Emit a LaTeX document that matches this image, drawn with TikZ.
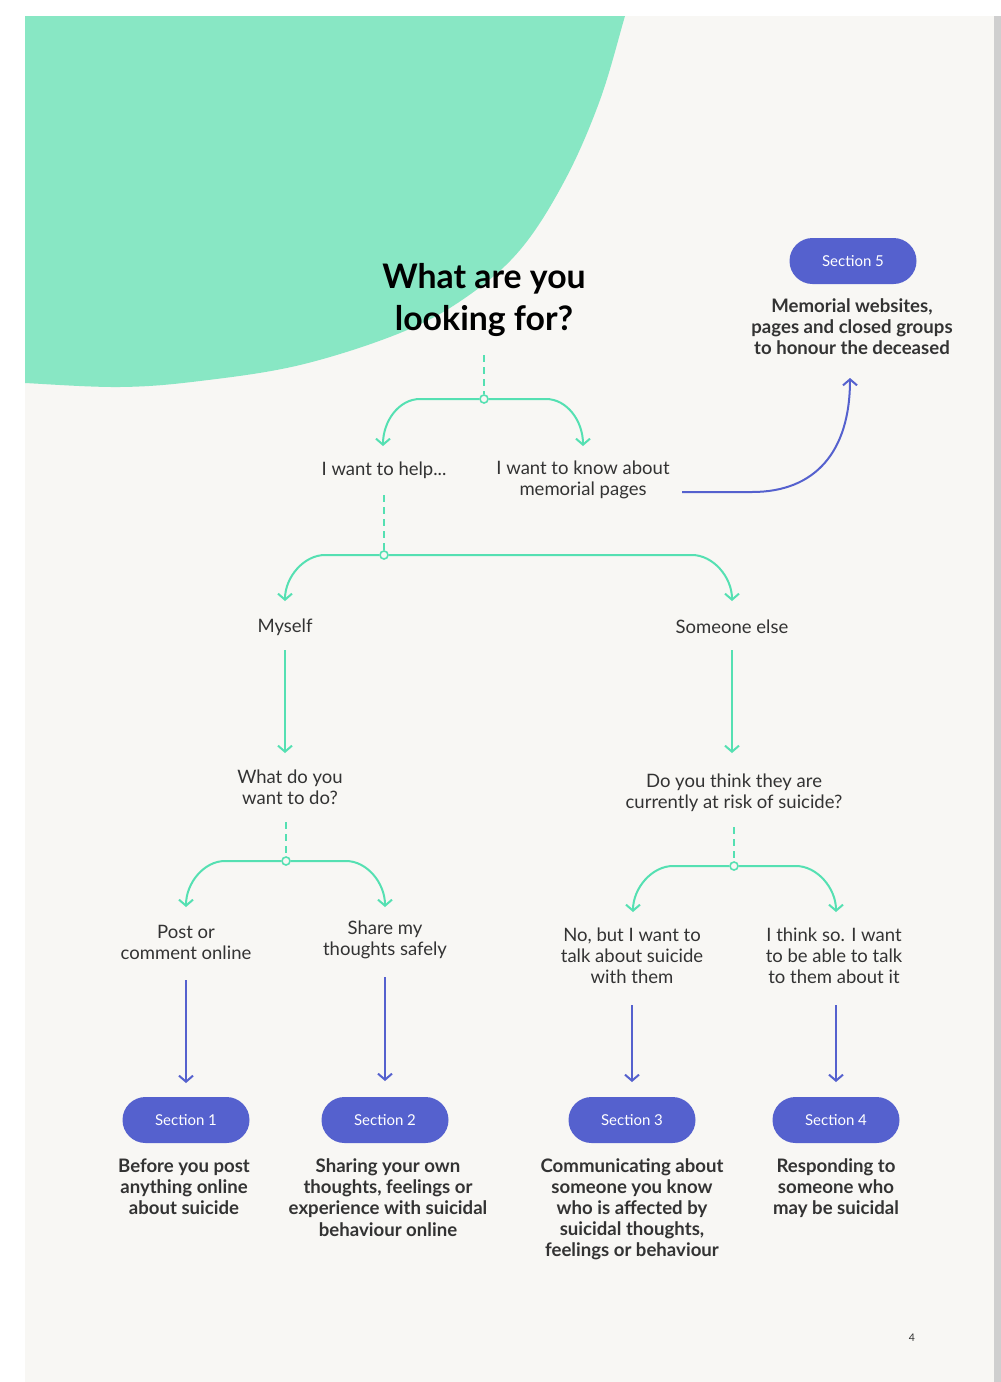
\documentclass[tikz,border=0pt]{standalone}
\usepackage{fontspec}
\setmainfont{Lato}
\usetikzlibrary{arrows.meta,shapes.misc}
\definecolor{pagebg}{HTML}{F8F7F4}
\definecolor{blob}{HTML}{88E7C4}
\definecolor{mint}{HTML}{55E0B2}
\definecolor{pillblue}{HTML}{5561CE}
\definecolor{ink}{HTML}{333333}
\definecolor{edge}{HTML}{CFCFCF}
\begin{document}
\begin{tikzpicture}[x=1pt,y=-1pt,
  txt/.style={font=\fontsize{18.5}{21}\selectfont, text=ink, align=center, inner sep=0pt},
  desc/.style={font=\bfseries\fontsize{18.6}{21.1}\selectfont, text=ink, align=center, inner sep=0pt},
  pill/.style={rounded rectangle, fill=pillblue, minimum width=127pt, minimum height=46pt, text=white, font=\fontsize{15}{17}\selectfont, inner sep=0pt},
  junction/.style={circle, draw=mint, line width=1.6pt, fill=pagebg, minimum size=8pt, inner sep=0pt},
  mintline/.style={draw=mint, line width=2pt},
  mintarrow/.style={mintline, -{Straight Barb[length=6pt,width=14pt]}},
  bluearrow/.style={draw=pillblue, line width=2pt, -{Straight Barb[length=6pt,width=14pt]}},
  dashline/.style={mintline, dash pattern=on 7pt off 5pt},
]
% canvas
\useasboundingbox (0,0) rectangle (1001,1382);
\fill[white] (0,0) rectangle (1001,1382);
\fill[edge] (994,16) rectangle (1001,1382);
\fill[pagebg] (25,16) rectangle (994,1382);
\begin{scope}
  \clip (25,16) rectangle (994,1382);
  \fill[blob] (0,-20) -- plot[smooth, tension=0.6] coordinates {(633,-10) (625,16) (600,100) (565,180) (520,250) (465,298) (400,333) (300,365) (200,381) (120,387) (25,383) (0,381)} -- cycle;
\end{scope}

% title
\node[font=\bfseries\fontsize{33.8}{42}\selectfont, text=black, align=center, inner sep=0pt] (title) at (484,300) {What are you\\looking for?};

% section 5
\node[pill] (s5) at (853,261) {Section 5};
\node[desc] (d5) at (852,327) {Memorial websites,\\pages and closed groups\\to honour the deceased};

% level 1
\coordinate (d1s) at (484,355);
\node[junction] (j1) at (484,399) {};
\draw[dashline] (d1s) -- (j1);
\node[txt] (help) at (384,470) {I want to help...};
\node[txt] (memo) at (583,480) {I want to know about\\memorial pages};
\coordinate (t1l) at (383,446);
\coordinate (t1r) at (583,446);
\draw[mintarrow] (j1) -- (420,399) .. controls (399,399) and (383,421) .. (t1l);
\draw[mintarrow] (j1) -- (546,399) .. controls (567,399) and (583,421) .. (t1r);

% memorial arrow
\coordinate (m1) at (682,492);
\coordinate (m2) at (850,378);
\draw[bluearrow] (m1) -- (752,492) .. controls (815,492) and (850,452) .. (m2);

% level 2
\coordinate (d2s) at (384,495);
\node[junction] (j2) at (384,555) {};
\draw[dashline] (d2s) -- (j2);
\node[txt] (myself) at (285,627) {Myself};
\node[txt] (else) at (732,627) {Someone else};
\coordinate (t2l) at (285,601);
\coordinate (t2r) at (732,601);
\draw[mintarrow] (j2) -- (325,555) .. controls (304,555) and (285,577) .. (t2l);
\draw[mintarrow] (j2) -- (692,555) .. controls (713,555) and (732,577) .. (t2r);

% level 3
\coordinate (a1s) at (285,650);
\coordinate (a1e) at (285,753);
\coordinate (a2s) at (732,650);
\coordinate (a2e) at (732,753);
\draw[mintarrow] (a1s) -- (a1e);
\draw[mintarrow] (a2s) -- (a2e);
\node[txt] (wantdo) at (290,787) {What do you\\want to do?};
\node[txt] (risk) at (734,793) {Do you think they are\\currently at risk of suicide?};

% level 4 left
\coordinate (d3s) at (286,822);
\node[junction] (j3) at (286,861) {};
\draw[dashline] (d3s) -- (j3);
\coordinate (t3l) at (186,907);
\coordinate (t3r) at (385,907);
\draw[mintarrow] (j3) -- (225,861) .. controls (204,861) and (186,883) .. (t3l);
\draw[mintarrow] (j3) -- (346,861) .. controls (367,861) and (385,883) .. (t3r);
\node[txt] (post) at (186,942) {Post or\\comment online};
\node[txt] (share) at (385,940) {Share my\\thoughts safely};

% level 4 right
\coordinate (d4s) at (734,827);
\node[junction] (j4) at (734,866) {};
\draw[dashline] (d4s) -- (j4);
\coordinate (t4l) at (633,912);
\coordinate (t4r) at (836,912);
\draw[mintarrow] (j4) -- (673,866) .. controls (652,866) and (633,888) .. (t4l);
\draw[mintarrow] (j4) -- (796,866) .. controls (817,866) and (836,888) .. (t4r);
\node[txt] (nobut) at (632,956) {No, but I want to\\talk about suicide\\with them};
\node[txt] (think) at (834,956) {I think so. I want\\to be able to talk\\to them about it};

% blue arrows
\coordinate (b1s) at (186,980);
\coordinate (b1e) at (186,1083);
\coordinate (b2s) at (385,977);
\coordinate (b2e) at (385,1081);
\coordinate (b3s) at (632,1005);
\coordinate (b3e) at (632,1082);
\coordinate (b4s) at (836,1005);
\coordinate (b4e) at (836,1082);
\draw[bluearrow] (b1s) -- (b1e);
\draw[bluearrow] (b2s) -- (b2e);
\draw[bluearrow] (b3s) -- (b3e);
\draw[bluearrow] (b4s) -- (b4e);

% sections
\node[pill] (s1) at (186,1120) {Section 1};
\node[pill] (s2) at (385,1120) {Section 2};
\node[pill] (s3) at (632,1120) {Section 3};
\node[pill] (s4) at (836,1120) {Section 4};
\node[desc] (d1) at (184,1187) {Before you post\\anything online\\about suicide};
\node[desc] (d2) at (388,1197.5) {Sharing your own\\thoughts, feelings or\\experience with suicidal\\behaviour online};
\node[desc] (d3) at (632,1209) {Communicating about\\someone you know\\who is affected by\\suicidal thoughts,\\feelings or behaviour};
\node[desc] (d4) at (836,1188) {Responding to\\someone who\\may be suicidal};

% page number
\node[font=\fontsize{10.5}{12}\selectfont, text=ink, inner sep=0pt] (pnum) at (912,1338) {4};
\end{tikzpicture}
\end{document}
